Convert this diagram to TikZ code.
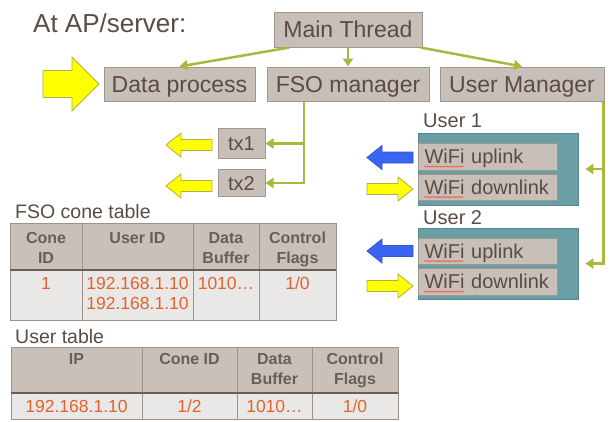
\documentclass[tikz,border=0pt]{standalone}
\usepackage{fontspec}
\setmainfont{Liberation Sans}
\usetikzlibrary{positioning, arrows.meta, calc, decorations.pathmorphing}

\definecolor{boxfill}{HTML}{C8C0B8}
\definecolor{boxline}{HTML}{A0978F}
\definecolor{ink}{HTML}{5A4B44}
\definecolor{olive}{HTML}{A9B83C}
\definecolor{userteal}{HTML}{6A9EA5}
\definecolor{hdrfill}{HTML}{C9C1B9}
\definecolor{cellfill}{HTML}{EAE8E6}
\definecolor{cellink}{HTML}{E0632D}
\definecolor{hdrink}{HTML}{6B5E56}
\definecolor{gridline}{HTML}{9C928A}
\definecolor{arrowyellow}{HTML}{FFFF00}
\definecolor{arrowrim}{HTML}{B5AE45}
\definecolor{uplinkblue}{HTML}{3A64F2}

\tikzset{
  block/.style={draw=boxline, line width=1bp, fill=boxfill, text=ink, inner sep=0pt,
    text height=16.5bp, text depth=0pt, font=\fontsize{23bp}{27bp}\selectfont},
  small/.style={block, text height=14.3bp, font=\fontsize{20bp}{24bp}\selectfont},
  wifibox/.style={small, anchor=west, text width=127bp, inner xsep=6bp, align=left},
  userbox/.style={draw=userteal!85!black, line width=0.8bp, fill=userteal, minimum width=160bp},
  link/.style={draw=olive, line width=2.5bp, -{Triangle[width=10bp,length=8bp]}},
  yarrow/.style={draw=arrowrim, fill=arrowyellow, line width=0.8bp},
  barrow/.style={draw=uplinkblue!85!black, fill=uplinkblue, line width=0.8bp},
  squiggle/.style={draw=red!70, line width=0.5bp, decorate,
    decoration={snake, amplitude=0.7bp, segment length=2.5bp}},
  label/.style={text=ink, inner sep=0pt, anchor=base west},
  hdr/.style={anchor=north, inner sep=0pt, align=center, text=hdrink,
    font=\fontsize{16bp}{20bp}\selectfont\bfseries},
  cell/.style={anchor=north, inner sep=0pt, align=center, text=cellink,
    font=\fontsize{17.5bp}{20bp}\selectfont},
  gridrule/.style={draw=gridline, line width=1bp},
  hdrrule/.style={draw=hdrink, line width=2bp},
  flatarrow/.pic={\path[pic actions] (0,0) -- (15,-12) -- (15,-5.5) -- (46,-5.5)
    -- (46,5.5) -- (15,5.5) -- (15,12) -- cycle;}
}

\begin{document}
\begin{tikzpicture}[x=1bp, y=-1bp]
    \useasboundingbox (0,0) rectangle (611,421);

    \node[label, font=\fontsize{26bp}{30bp}\selectfont] (title) at (33,32) {At AP/server:};

    % threads
    \node[block, minimum width=148bp, minimum height=35bp] (main) at (348,29.5) {Main Thread};
    \node[block, minimum width=151bp, minimum height=34bp] (data) at (179.5,84) {Data process};
    \node[block, minimum width=162bp, minimum height=34bp] (fso) at (348,84) {FSO manager};
    \node[block, minimum width=164bp, minimum height=34bp] (user) at (522,84) {User Manager};

    \draw[link] ([xshift=16bp]main.south west) -- (data.north);
    \draw[link] (main) -- (fso);
    \draw[link] ([xshift=-2bp]main.south east) -- (user.north);

    \draw[yarrow] (99,84) -- (72,57) -- (72,70.5) -- (43,70.5) -- (43,97.5)
      -- (72,97.5) -- (72,111) -- cycle;

    % FSO transmitters
    \node[small, minimum width=47bp, minimum height=30bp] (tx1) at (241.5,143.5) {tx1};
    \node[small, minimum width=47bp, minimum height=27bp] (tx2) at (241.5,183) {tx2};
    \draw[link] ([xshift=-44bp]fso.south) |- (tx1.east);
    \draw[link] ([xshift=-44bp]fso.south) |- (tx2.east);
    \pic[yarrow] at (166,145) {flatarrow};
    \pic[yarrow] at (166,186) {flatarrow};

    % users
    \node[label, font=\fontsize{20bp}{24bp}\selectfont] (user1) at (423,127) {User 1};
    \node[userbox, minimum height=72bp] (u1) at (498,169) {};
    \node[wifibox, minimum height=27bp] (up1) at (418,156.5) {WiFi uplink};
    \node[wifibox, minimum height=26bp] (down1) at (418,187) {WiFi downlink};

    \node[label, font=\fontsize{20bp}{24bp}\selectfont] (user2) at (423,224) {User 2};
    \node[userbox, minimum height=71bp] (u2) at (498,263.5) {};
    \node[wifibox, minimum height=26bp] (up2) at (418,251) {WiFi uplink};
    \node[wifibox, minimum height=27bp] (down2) at (418,281.5) {WiFi downlink};

    \foreach \w in {up1,down1,up2,down2}
      \draw[squiggle] ([xshift=6bp,yshift=-3bp]\w.base west) -- ++(40,0);

    \draw[link] ([xshift=-1bp]user.south east) |- ([xshift=7bp]u1.east);
    \draw[link] ([xshift=-1bp]user.south east) |- ([xshift=7bp]u2.east);

    \pic[barrow] at (367,157.5) {flatarrow};
    \pic[yarrow, xscale=-1] at (413,189) {flatarrow};
    \pic[barrow] at (367,251) {flatarrow};
    \pic[yarrow, xscale=-1] at (413,286) {flatarrow};

    % FSO cone table
    \node[label, font=\fontsize{19.5bp}{23bp}\selectfont] (fsotab) at (15,218) {FSO cone table};
    \fill[hdrfill] (10,223) rectangle (336,270);
    \fill[cellfill] (10,270) rectangle (336,320);
    \draw[gridrule] (10,223) rectangle (336,320);
    \foreach \x in {82,193,259}
      \draw[gridrule] (\x,223) -- (\x,320);
    \draw[hdrrule] (10,270) -- (336,270);

    \node[hdr] (fcone) at (46,232) {Cone\\ID};
    \node[hdr] (fuser) at (137.5,232) {User ID};
    \node[hdr] (fbuf) at (226,232) {Data\\Buffer};
    \node[hdr] (fflag) at (297.5,232) {Control\\Flags};
    \node[cell] (fconev) at (46,277) {1};
    \node[cell] (fuserv) at (137.5,277) {192.168.1.10\\192.168.1.10};
    \node[cell] (fbufv) at (226,277) {1010…};
    \node[cell] (fflagv) at (297.5,277) {1/0};

    % user table
    \node[label, font=\fontsize{19.5bp}{23bp}\selectfont] (usertab) at (15,343) {User table};
    \fill[hdrfill] (11,347) rectangle (398,393);
    \fill[cellfill] (11,393) rectangle (398,419);
    \draw[gridrule] (11,347) rectangle (398,419);
    \foreach \x in {142,237,312}
      \draw[gridrule] (\x,347) -- (\x,419);
    \draw[hdrrule] (11,393) -- (398,393);

    \node[hdr] (uip) at (76.5,353) {IP};
    \node[hdr] (ucone) at (189.5,353) {Cone ID};
    \node[hdr] (ubuf) at (274.5,353) {Data\\Buffer};
    \node[hdr] (uflag) at (355,353) {Control\\Flags};
    \node[cell] (uipv) at (76.5,400) {192.168.1.10};
    \node[cell] (uconev) at (189.5,400) {1/2};
    \node[cell] (ubufv) at (274.5,400) {1010…};
    \node[cell] (uflagv) at (355,400) {1/0};
\end{tikzpicture}
\end{document}
